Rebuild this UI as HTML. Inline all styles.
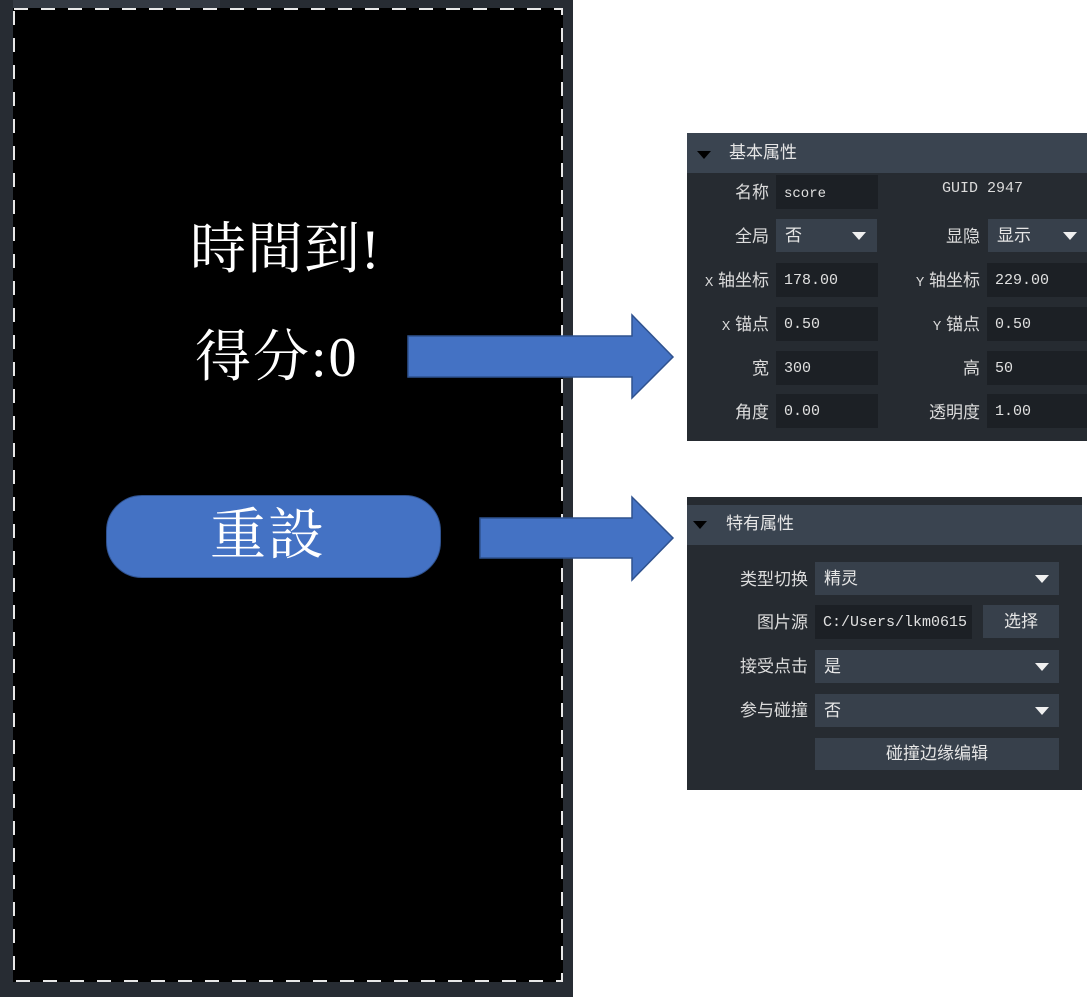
<!DOCTYPE html>
<html><head><meta charset="utf-8"><style>
*{margin:0;padding:0;box-sizing:border-box}
body{width:1087px;height:997px;background:#fff;position:relative;overflow:hidden;font-family:"Liberation Sans","Noto Sans CJK SC",sans-serif}
.a{position:absolute}
.frame{left:0;top:0;width:573px;height:997px;background:#272c33}
.tab{left:13px;top:0;width:207px;height:8px;background:#343a43}
.game{left:13px;top:8px;width:550px;height:974px;background:#000}
.big{color:#fff;font-family:"Liberation Serif","Noto Serif CJK SC",serif;font-size:56px;white-space:nowrap;line-height:1}
.btn{left:106px;top:495px;width:335px;height:83px;border-radius:36px;background:#4472c4;border:1.5px solid #2f528f}
.panel{background:#262b31}
.hdr{background:#3a4450;color:#e6e6e6;font-size:17px}
.lbl{color:#dcdcdc;font-size:17px;text-align:right;white-space:nowrap}
.inp{background:#1c2025;color:#e0e0e0;font-family:"Liberation Mono","Noto Sans CJK SC",monospace;font-size:15px;padding-left:8px;white-space:nowrap;overflow:hidden}
.dd{background:#37404b;color:#e6e6e6;font-size:17px;padding-left:9px;white-space:nowrap}
.tri{position:absolute;width:0;height:0;border-left:7px solid transparent;border-right:7px solid transparent;border-top:8px solid #f0f0f0}
.bt{background:#37404b;color:#e6e6e6;font-size:17px;text-align:center}
</style></head><body>
<div class="a frame"></div>
<div class="a tab"></div>
<div class="a game"></div>
<svg class="a" style="left:0;top:0" width="573" height="997">
<rect x="14" y="9" width="548" height="972" fill="none" stroke="#e8e8e8" stroke-width="2" stroke-dasharray="14,13"/>
</svg>
<div class="a big" style="left:190px;top:222px;letter-spacing:1px">時間到!</div>
<div class="a big" style="left:195px;top:330px;letter-spacing:2px">得分:0</div>
<div class="a btn"></div>
<div class="a big" style="left:210px;top:508px;letter-spacing:2px">重設</div>

<svg class="a" style="left:0;top:0" width="1087" height="997">
<polygon points="408,336 632,336 632,315 673,357 632,398 632,377 408,377" fill="#4472c4" stroke="#2f528f" stroke-width="1.5"/>
<polygon points="480,518 632,518 632,497 673,538 632,580 632,558 480,558" fill="#4472c4" stroke="#2f528f" stroke-width="1.5"/>
</svg>

<!-- panel 1 -->
<div class="a panel" style="left:687px;top:133px;width:400px;height:308px"></div>
<div class="a hdr" style="left:687px;top:133px;width:400px;height:40px"></div>
<div class="tri" style="left:697px;top:151px;border-top-color:#000"></div>
<div class="a hdr" style="left:729px;top:138px;background:none">基本属性</div>

<div class="a lbl" style="left:690px;top:178px;width:79px">名称</div>
<div class="a inp" style="left:776px;top:175px;width:102px;height:34px;line-height:38px;font-size:14px">score</div>
<div class="a lbl" style="left:900px;top:180px;width:130px;text-align:left;font-size:15px;font-family:'Liberation Mono',monospace;padding-left:42px">GUID 2947</div>

<div class="a lbl" style="left:690px;top:222px;width:79px">全局</div>
<div class="a dd" style="left:776px;top:219px;width:101px;height:33px;line-height:33px">否</div>
<div class="tri" style="left:852px;top:232px"></div>
<div class="a lbl" style="left:900px;top:222px;width:80px">显隐</div>
<div class="a dd" style="left:988px;top:219px;width:99px;height:33px;line-height:33px">显示</div>
<div class="tri" style="left:1063px;top:232px"></div>

<div class="a lbl" style="left:690px;top:266px;width:79px"><span style="font-family:'Liberation Mono';font-size:14px">X</span> 轴坐标</div>
<div class="a inp" style="left:776px;top:263px;width:102px;height:34px;line-height:36px">178.00</div>
<div class="a lbl" style="left:890px;top:266px;width:90px"><span style="font-family:'Liberation Mono';font-size:14px">Y</span> 轴坐标</div>
<div class="a inp" style="left:987px;top:263px;width:100px;height:34px;line-height:36px">229.00</div>

<div class="a lbl" style="left:690px;top:310px;width:79px"><span style="font-family:'Liberation Mono';font-size:14px">X</span> 锚点</div>
<div class="a inp" style="left:776px;top:307px;width:102px;height:34px;line-height:36px">0.50</div>
<div class="a lbl" style="left:890px;top:310px;width:90px"><span style="font-family:'Liberation Mono';font-size:14px">Y</span> 锚点</div>
<div class="a inp" style="left:987px;top:307px;width:100px;height:34px;line-height:36px">0.50</div>

<div class="a lbl" style="left:690px;top:354px;width:79px">宽</div>
<div class="a inp" style="left:776px;top:351px;width:102px;height:34px;line-height:36px">300</div>
<div class="a lbl" style="left:890px;top:354px;width:90px">高</div>
<div class="a inp" style="left:987px;top:351px;width:100px;height:34px;line-height:36px">50</div>

<div class="a lbl" style="left:690px;top:398px;width:79px">角度</div>
<div class="a inp" style="left:776px;top:394px;width:102px;height:34px;line-height:36px">0.00</div>
<div class="a lbl" style="left:890px;top:398px;width:90px">透明度</div>
<div class="a inp" style="left:987px;top:394px;width:100px;height:34px;line-height:36px">1.00</div>

<!-- panel 2 -->
<div class="a panel" style="left:687px;top:497px;width:395px;height:293px"></div>
<div class="a hdr" style="left:687px;top:505px;width:395px;height:40px"></div>
<div class="tri" style="left:693px;top:521px;border-top-color:#000"></div>
<div class="a hdr" style="left:726px;top:509px;background:none">特有属性</div>

<div class="a lbl" style="left:700px;top:565px;width:108px">类型切换</div>
<div class="a dd" style="left:815px;top:562px;width:244px;height:33px;line-height:33px">精灵</div>
<div class="tri" style="left:1035px;top:575px"></div>

<div class="a lbl" style="left:700px;top:608px;width:108px">图片源</div>
<div class="a inp" style="left:815px;top:605px;width:157px;height:34px;line-height:36px">C:/Users/lkm0615</div>
<div class="a bt" style="left:983px;top:605px;width:76px;height:33px;line-height:33px">选择</div>

<div class="a lbl" style="left:700px;top:652px;width:108px">接受点击</div>
<div class="a dd" style="left:815px;top:650px;width:244px;height:33px;line-height:33px">是</div>
<div class="tri" style="left:1035px;top:663px"></div>

<div class="a lbl" style="left:700px;top:696px;width:108px">参与碰撞</div>
<div class="a dd" style="left:815px;top:694px;width:244px;height:33px;line-height:33px">否</div>
<div class="tri" style="left:1035px;top:707px"></div>

<div class="a bt" style="left:815px;top:738px;width:244px;height:32px;line-height:32px">碰撞边缘编辑</div>
</body></html>
